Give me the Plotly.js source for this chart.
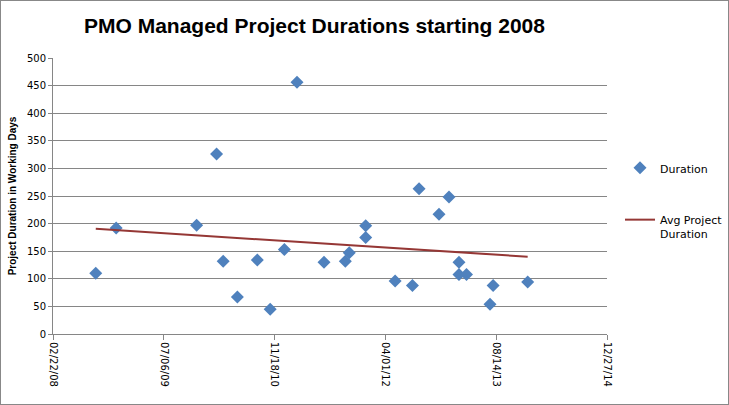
<!DOCTYPE html>
<html>
<head>
<meta charset="utf-8">
<script src="https://cdn.plot.ly/plotly-3.0.1.min.js"></script>
<style>
  html, body { margin: 0; padding: 0; background: #fff; }
  #chart { width: 727px; height: 403px; border: 1px solid #888; }
</style>
</head>
<body>
<div id="chart"></div>
<script>
// Project start dates and durations (working days)
const projectDates = [
  '2008-09-02', '2008-12-03', '2009-12-01', '2010-03-01', '2010-03-31',
  '2010-06-03', '2010-09-01', '2010-10-29', '2011-01-01', '2011-02-27',
  '2011-06-29', '2011-10-03', '2011-10-21', '2012-01-03', '2012-01-03',
  '2012-05-15', '2012-08-01', '2012-08-31', '2012-11-29', '2013-01-13',
  '2013-02-27', '2013-02-27', '2013-04-02', '2013-07-17', '2013-07-31',
  '2014-01-03'
];
const durations = [
  110, 192, 197, 326, 132,
  67, 134, 45, 153, 456,
  130, 132, 147, 196, 175,
  96, 88, 263, 217, 248,
  130, 108, 108, 54, 88,
  94
];
// Linear trend ("Avg Project Duration") end points
const trendDates = ['2008-09-02', '2014-01-03'];
const trendValues = [190.5, 140];

const xTick0 = '2008-02-22';
const xRange = ['2008-02-22', '2014-12-27'];
const tickStepDays = 500;

const traces = [
  {
    type: 'scatter', mode: 'markers', name: 'Duration',
    x: projectDates, y: durations,
    marker: { symbol: 'diamond', size: 10, color: '#4F81BD' },
    legendgroup: 'a'
  },
  {
    type: 'scatter', mode: 'lines', name: 'Avg Project<br>Duration',
    x: trendDates, y: trendValues,
    line: { color: '#953735', width: 2 },
    legendgroup: 'b'
  }
];

const layout = {
  width: 727, height: 403,
  margin: { l: 51.5, r: 120.5, t: 57.3, b: 69.7 },
  paper_bgcolor: '#fff', plot_bgcolor: '#fff',
  font: { family: 'DejaVu Sans, sans-serif', size: 10, color: '#000' },
  title: {
    text: '<b>PMO Managed Project Durations starting 2008</b>',
    font: { family: 'Liberation Sans, Arial, sans-serif', size: 21, color: '#000' },
    x: 313.5 / 727, xref: 'container', xanchor: 'center',
    y: 1 - 25 / 403, yref: 'container', yanchor: 'middle'
  },
  xaxis: {
    type: 'date',
    range: xRange,
    tick0: xTick0,
    dtick: tickStepDays * 86400000,
    tickformat: '%m/%d/%y',
    tickangle: 90,
    showgrid: false,
    showline: true, linecolor: '#868686', linewidth: 1,
    ticks: 'outside', ticklen: 5, tickcolor: '#868686',
    tickfont: { family: 'DejaVu Sans, sans-serif', size: 10 },
    zeroline: false,
    automargin: false
  },
  yaxis: {
    range: [0, 500],
    tick0: 0, dtick: 50,
    showgrid: true, gridcolor: '#868686', gridwidth: 1,
    showline: true, linecolor: '#868686', linewidth: 1,
    ticks: 'outside', ticklen: 4, tickcolor: '#868686',
    tickfont: { family: 'DejaVu Sans, sans-serif', size: 10 },
    zeroline: false,
    automargin: false,
    title: {
      text: '<b>Project Duration in Working Days</b>',
      font: { family: 'Liberation Sans, Arial, sans-serif', size: 10 },
      standoff: 8
    }
  },
  showlegend: true,
  legend: {
    xref: 'container', yref: 'container',
    x: 619 / 727, xanchor: 'left',
    y: 1 - 153 / 403, yanchor: 'top',
    traceorder: 'grouped',
    tracegroupgap: 33,
    valign: 'top',
    font: { family: 'DejaVu Sans, sans-serif', size: 11, color: '#000' },
    bgcolor: 'rgba(0,0,0,0)'
  }
};

Plotly.newPlot('chart', traces, layout, { displayModeBar: false, staticPlot: true });
</script>
</body>
</html>
